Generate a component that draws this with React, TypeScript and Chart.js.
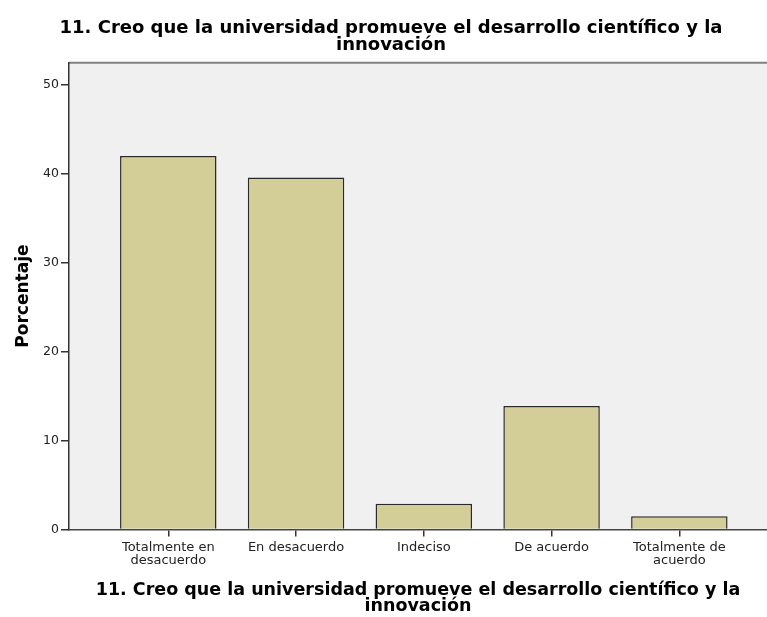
import React, { useEffect, useRef } from "react";
import { Chart, registerables } from "chart.js";

Chart.register(...registerables);

const TITLE_LINES = ["11. Creo que la universidad promueve el desarrollo científico y la", "innovación"];
const CATEGORIES: (string | string[])[] = [
  ["Totalmente en", "desacuerdo"],
  "En desacuerdo",
  "Indeciso",
  "De acuerdo",
  ["Totalmente de", "acuerdo"],
];
const PERCENTS = [42.0, 39.6, 2.9, 13.9, 1.5];
const Y_TICKS = [0, 10, 20, 30, 40, 50];
const Y_TITLE = "Porcentaje";

const FONT = "'DejaVu Sans', sans-serif";

const plotBg = {
  id: "plotBg",
  beforeDraw(chart: any) {
    const { ctx, chartArea } = chart;
    ctx.save();
    ctx.fillStyle = "#f0f0f0";
    ctx.fillRect(chartArea.left, chartArea.top, chartArea.right - chartArea.left, chartArea.bottom - chartArea.top);
    ctx.strokeStyle = "#808080";
    ctx.lineWidth = 2;
    ctx.beginPath();
    ctx.moveTo(chartArea.left, chartArea.top);
    ctx.lineTo(chartArea.right, chartArea.top);
    ctx.stroke();
    ctx.restore();
  },
};

export default function App() {
  const ref = useRef<HTMLCanvasElement | null>(null);
  useEffect(() => {
    document.body.style.margin = "0";
    const canvas = ref.current;
    if (!canvas) return;
    const chart = new Chart(canvas, {
      type: "bar",
      data: {
        datasets: [
          {
            data: PERCENTS.map((v, i) => ({ x: i, y: v })),
            backgroundColor: "#d3ce97",
            borderColor: "#2a2a2a",
            borderWidth: 1.5,
            barPercentage: 0.755,
            categoryPercentage: 1,
          },
        ],
      },
      options: {
        animation: false,
        responsive: false,
        devicePixelRatio: 1,
        layout: { padding: { left: 15, right: 0, top: 0, bottom: 0 } },
        plugins: {
          legend: { display: false },
          tooltip: { enabled: false },
          title: {
            display: true,
            text: TITLE_LINES,
            color: "#000",
            font: { family: FONT, size: 18, weight: "bold", lineHeight: "17px" },
            padding: { top: 19.5, bottom: 9.2 },
          },
        },
        scales: {
          x: {
            type: "linear",
            offset: false,
            min: -0.777,
            max: 4.686,
            afterBuildTicks: (scale: any) => {
              scale.ticks = CATEGORIES.map((_, i) => ({ value: i }));
            },
            afterFit: (scale: any) => {
              scale.height = 87.5;
            },
            ticks: {
              color: "#222",
              font: { family: FONT, size: 13, lineHeight: "13px" },
              padding: 5,
              maxRotation: 0,
              autoSkip: false,
              callback: (v: any) => CATEGORIES[v as number],
            },
            grid: { display: true, offset: false, drawOnChartArea: false, tickLength: 7, color: "#333", lineWidth: 1.5 },
            border: { display: true, color: "#444", width: 1.5 },
            title: {
              display: true,
              text: TITLE_LINES,
              color: "#000",
              font: { family: FONT, size: 17.5, weight: "bold", lineHeight: "16.5px" },
              padding: { top: 0, bottom: 2.25 },
            },
          },
          y: {
            min: 0,
            max: 52.5,
            afterBuildTicks: (scale: any) => {
              scale.ticks = Y_TICKS.map((v) => ({ value: v }));
            },
            afterFit: (scale: any) => {
              scale.width = 54;
            },
            ticks: {
              color: "#222",
              font: { family: FONT, size: 12.5 },
              padding: 2,
            },
            grid: { display: true, drawOnChartArea: false, tickLength: 8, color: "#333", lineWidth: 1.5 },
            border: { display: true, color: "#333", width: 1.5 },
            title: {
              display: true,
              text: Y_TITLE,
              color: "#000",
              font: { family: FONT, size: 17, weight: "bold", lineHeight: "17px" },
              padding: { top: 0, bottom: 0 },
            },
          },
        },
      },
      plugins: [plotBg],
    } as any);
    return () => chart.destroy();
  }, []);
  return <canvas ref={ref} width={767} height={617} style={{ display: "block" }} />;
}
